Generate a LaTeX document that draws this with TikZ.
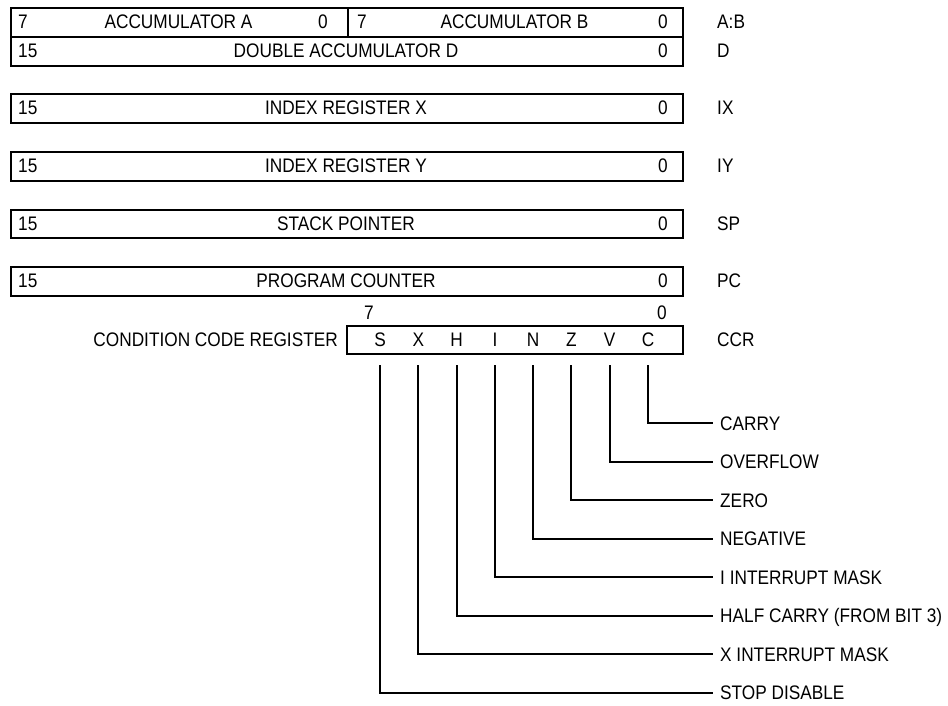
\documentclass[tikz,border=0pt]{standalone}
\usepackage{fontspec}
\setmainfont{Liberation Sans}[FakeStretch=0.88]
\begin{document}
\begin{tikzpicture}[x=1pt,y=-1pt,
  every node/.style={font=\fontsize{19.6pt}{22pt}\selectfont, inner sep=0pt, text height=14pt, text depth=0pt},
  reg/.style={draw, line width=2pt, minimum height=28.8pt, anchor=north west},
  conn/.style={line width=2pt},
  lft/.style={anchor=west},
  rgt/.style={anchor=east},
  side/.style={anchor=west}]
\useasboundingbox (0,0) rectangle (948,705);
% register A:B
\node[reg, minimum width=337pt] (regA) at (10,7) {};
\node[reg, minimum width=335pt] (regB) at (347,7) {};
\node[lft] (a7) at (18,21.4) {7};
\node (aname) at (178.5,21.4) {ACCUMULATOR A};
\node[rgt] (a0) at (328,21.4) {0};
\node[lft] (b7) at (357,21.4) {7};
\node (bname) at (514.5,21.4) {ACCUMULATOR B};
\node[rgt] (b0) at (668,21.4) {0};
\node[side] (sAB) at (717,21.4) {A:B};
% D
\node[reg, minimum width=672pt] (regD) at (10,35.8) {};
\node[lft] (d15) at (18,50.2) {15};
\node (dname) at (346,50.2) {DOUBLE ACCUMULATOR D};
\node[rgt] (d0) at (668,50.2) {0};
\node[side] (sD) at (717,50.2) {D};
% IX
\node[reg, minimum width=672pt] (regX) at (10,93.4) {};
\node[lft] (x15) at (18,107.8) {15};
\node (xname) at (346,107.8) {INDEX REGISTER X};
\node[rgt] (x0) at (668,107.8) {0};
\node[side] (sX) at (717,107.8) {IX};
% IY
\node[reg, minimum width=672pt] (regY) at (10,151) {};
\node[lft] (y15) at (18,165.4) {15};
\node (yname) at (346,165.4) {INDEX REGISTER Y};
\node[rgt] (y0) at (668,165.4) {0};
\node[side] (sY) at (717,165.4) {IY};
% SP
\node[reg, minimum width=672pt] (regSP) at (10,208.6) {};
\node[lft] (sp15) at (18,223) {15};
\node (spname) at (346,223) {STACK POINTER};
\node[rgt] (sp0) at (668,223) {0};
\node[side] (sSP) at (717,223) {SP};
% PC
\node[reg, minimum width=672pt] (regPC) at (10,266.2) {};
\node[lft] (pc15) at (18,280.6) {15};
\node (pcname) at (346,280.6) {PROGRAM COUNTER};
\node[rgt] (pc0) at (668,280.6) {0};
\node[side] (sPC) at (717,280.6) {PC};
% CCR
\node (c7) at (369,312) {7};
\node (c0) at (662,312) {0};
\node[reg, minimum width=336pt] (regCCR) at (346,324.6) {};
\node[rgt] (ccrname) at (338,339) {CONDITION CODE REGISTER};
\node[side] (sCCR) at (717,339) {CCR};
\node (bS) at (380,339) {S};
\node (bX) at (418.3,339) {X};
\node (bH) at (456.6,339) {H};
\node (bI) at (494.9,339) {I};
\node (bN) at (533.1,339) {N};
\node (bZ) at (571.4,339) {Z};
\node (bV) at (609.7,339) {V};
\node (bC) at (648,339) {C};
\coordinate (top) at (0,365);
% flag labels
\node[side] (lC) at (720,423) {CARRY};
\node[side] (lV) at (720,461.5) {OVERFLOW};
\node[side] (lZ) at (720,500) {ZERO};
\node[side] (lN) at (720,538.5) {NEGATIVE};
\node[side] (lI) at (720,577) {I INTERRUPT MASK};
\node[side] (lH) at (720,615.5) {HALF CARRY (FROM BIT 3)};
\node[side] (lX) at (720,654) {X INTERRUPT MASK};
\node[side] (lS) at (720,692.5) {STOP DISABLE};
\foreach \b in {C,V,Z,N,I,H,X,S}{
  \draw[conn] (b\b |- top) |- ([xshift=-7pt]l\b.west);
}
\end{tikzpicture}
\end{document}
